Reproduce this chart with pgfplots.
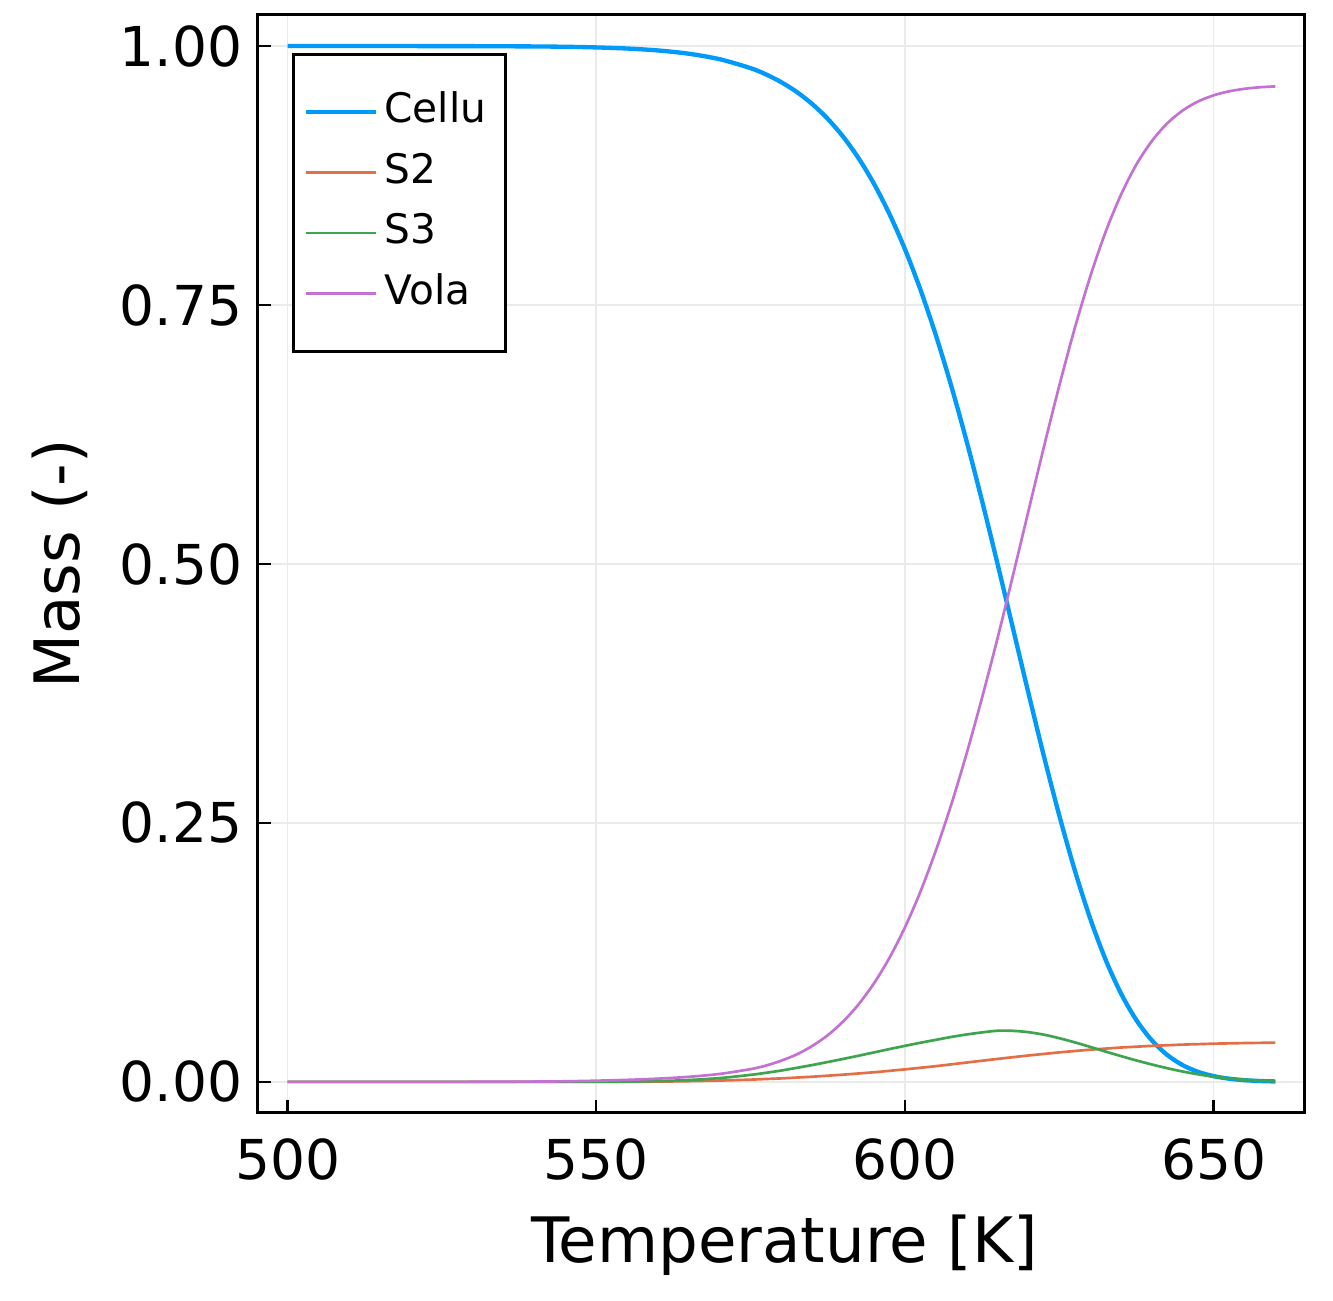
\documentclass[border=0pt]{standalone}
\usepackage{pgfplots}
\pgfplotsset{compat=1.18}
\usepackage{pgfplotstable}
\usepackage{fontspec}
\setmainfont{DejaVu Sans}
\definecolor{jblue}{HTML}{009AFA}
\definecolor{jorange}{HTML}{E36F47}
\definecolor{jgreen}{HTML}{3EA44E}
\definecolor{jpurple}{HTML}{C371D2}
\pgfplotstableread{
T      c       s2      s3      v
500    1.00000 0.00000 0.00000 0.00000
510    1.00000 0.00000 0.00000 0.00000
520    0.99998 0.00000 0.00000 0.00002
530    0.99990 0.00000 0.00002 0.00008
540    0.99963 0.00000 0.00005 0.00032
545    0.99930 0.00000 0.00010 0.00060
550    0.99869 0.00000 0.00015 0.00116
555    0.99762 0.00010 0.00030 0.00198
560    0.99576 0.00030 0.00080 0.00314
565    0.99258 0.00070 0.00180 0.00492
570    0.98728 0.00130 0.00370 0.00772
575    0.97867 0.00220 0.00680 0.01233
577.5  0.97260 0.00280 0.00880 0.01580
580    0.96500 0.00340 0.01100 0.02060
582.5  0.95557 0.00420 0.01360 0.02663
585    0.94392 0.00500 0.01630 0.03478
587.5  0.92969 0.00600 0.01920 0.04511
590    0.91240 0.00700 0.02220 0.05840
592.5  0.89160 0.00815 0.02530 0.07495
595    0.86686 0.00930 0.02850 0.09534
597.5  0.83770 0.01070 0.03170 0.11990
600    0.80385 0.01210 0.03480 0.14925
602.5  0.76494 0.01365 0.03780 0.18361
605    0.72093 0.01520 0.04060 0.22327
607.5  0.67185 0.01695 0.04340 0.26780
610    0.61822 0.01870 0.04580 0.31728
612.5  0.56059 0.02045 0.04780 0.37116
615    0.50000 0.02220 0.04940 0.42840
617.5  0.43773 0.02385 0.04930 0.48912
620    0.37541 0.02550 0.04800 0.55109
622.5  0.31459 0.02700 0.04560 0.61281
625    0.25714 0.02850 0.04220 0.67216
627.5  0.20446 0.02980 0.03820 0.72754
630    0.15784 0.03110 0.03380 0.77726
632.5  0.11799 0.03215 0.02930 0.82056
635    0.08532 0.03320 0.02490 0.85658
637.5  0.05953 0.03400 0.02070 0.88577
640    0.04006 0.03480 0.01680 0.90834
642.5  0.02592 0.03540 0.01320 0.92548
645    0.01614 0.03600 0.01000 0.93786
647.5  0.00967 0.03645 0.00730 0.94658
650    0.00558 0.03690 0.00510 0.95242
652.5  0.00310 0.03720 0.00340 0.95630
655    0.00167 0.03750 0.00210 0.95873
657.5  0.00087 0.03770 0.00120 0.96023
660    0.00044 0.03790 0.00060 0.96106
}\datatable
\begin{document}
\begin{tikzpicture}
\useasboundingbox (-77.4pt,-56.4pt) rectangle (322.5pt,333.9pt);
\begin{axis}[
  scale only axis,
  width=314.1pt, height=329.4pt,
  xmin=495.2, xmax=664.8,
  ymin=-0.03, ymax=1.03,
  xtick={500,550,600,650},
  ytick={0,0.25,0.5,0.75,1},
  /pgf/number format/assume math mode=true,
  yticklabel style={/pgf/number format/fixed,/pgf/number format/fixed zerofill,/pgf/number format/precision=2,
    font=\fontsize{16.5}{18}\selectfont, inner sep=0pt, xshift=-4.5pt},
  xticklabel style={font=\fontsize{16.5}{18}\selectfont, inner sep=0pt, yshift=-7.5pt},
  tick align=inside,
  tick pos=left,
  major tick length=4pt,
  tick style={black, line width=0.7pt},
  axis line style={line width=0.9pt},
  grid=major,
  major grid style={color=black!8, line width=0.5pt},
  xlabel={Temperature [K]},
  ylabel={Mass (-)},
  label style={font=\fontsize{18.8}{20}\selectfont},
  xlabel style={at={(axis description cs:0.503,-0.1202)}, anchor=center},
  ylabel style={at={(axis description cs:-0.1891,0.5)}, anchor=center},
  legend cell align=left,
  legend style={at={(axis description cs:0,1)}, anchor=north west,
    xshift=10.2pt, yshift=-11.4pt,
    font=\fontsize{12.2}{14}\selectfont,
    draw=black, line width=0.9pt,
    inner xsep=3pt, inner ysep=11.2pt,
    row sep=6.2pt,
    nodes={inner xsep=2pt, inner ysep=0pt, text height=9.2pt, text depth=2.8pt, text width=31.3pt}},
  legend image code/.code={\draw[#1] (0pt,0pt) -- (21pt,0pt);},
]
\addplot[color=jblue, line width=1.3pt, smooth] table[x=T,y=c] {\datatable};
\addlegendentry{Cellu}
\addplot[color=jorange, line width=0.8pt, smooth] table[x=T,y=s2] {\datatable};
\addlegendentry{S2}
\addplot[color=jgreen, line width=0.8pt, smooth] table[x=T,y=s3] {\datatable};
\addlegendentry{S3}
\addplot[color=jpurple, line width=0.8pt, smooth] table[x=T,y=v] {\datatable};
\addlegendentry{Vola}
\end{axis}
\end{tikzpicture}
\end{document}
